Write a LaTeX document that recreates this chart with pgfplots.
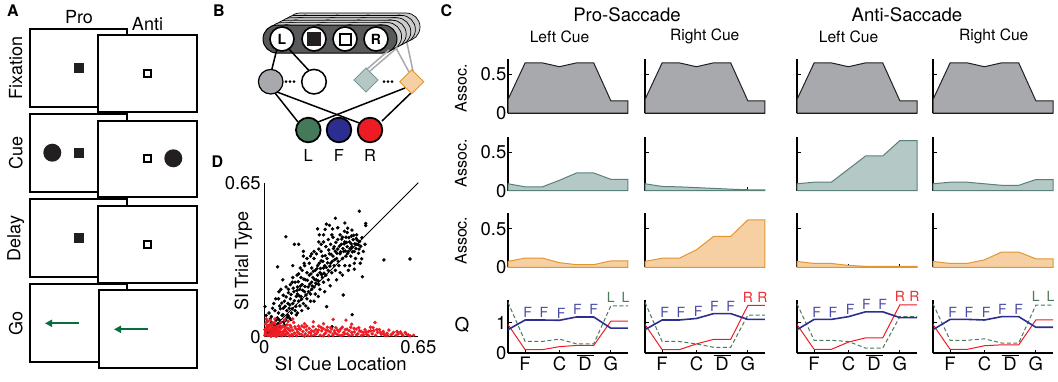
\documentclass[border=0pt]{standalone}
\usepackage{pgfplots}
\pgfplotsset{compat=1.18}
\usepackage{fontspec}
\setmainfont{TeX Gyre Heros}
\usetikzlibrary{arrows.meta}
\newcommand\fs[1]{\fontsize{#1}{#1}\selectfont}
\definecolor{gfill}{RGB}{167,169,172}
\definecolor{gline}{RGB}{35,31,32}
\definecolor{tfill}{RGB}{180,200,197}
\definecolor{tline}{RGB}{90,128,122}
\definecolor{ofill}{RGB}{246,208,162}
\definecolor{oline}{RGB}{226,150,50}
\definecolor{qblue}{RGB}{43,46,143}
\definecolor{qred}{RGB}{237,28,36}
\definecolor{qgreen}{RGB}{74,122,90}
\definecolor{lblue}{RGB}{75,75,165}
\definecolor{lgreen}{RGB}{74,122,90}
\definecolor{lred}{RGB}{237,45,50}
\definecolor{nodegreen}{RGB}{68,121,90}
\definecolor{arrgreen}{RGB}{10,110,60}
\definecolor{stack}{RGB}{88,89,91}
\tikzset{lt/.style={font=\fs{14}, anchor=south, inner sep=0pt}}
\pgfplotsset{
  cp/.style={scale only axis, width=120pt, anchor=origin, xmin=0, xmax=7, ymin=0,
    axis x line*=bottom, axis y line*=left, axis line style={-, line width=1.1pt, black},
    tick align=inside, major tick length=3.5pt, every tick/.style={black, line width=0.8pt},
    xtick={1,3,6}, xticklabels={}, yticklabels={},
    ticklabel style={font=\fs{18.5}}, /pgf/number format/assume math mode=true,
    yticklabel style={inner sep=1.5pt}, clip=false},
  ca/.style={cp, height=54pt, ymax=0.7, ytick={0,0.5}},
  cq/.style={cp, height=53pt, ymax=1.75, ytick={0,1}, xticklabels={F,C,G},
    extra x ticks={4.5}, extra x tick labels={D}, extra x tick style={major tick length=0pt}},
  r1/.style={draw=gline, fill=gfill, line width=1pt},
  r2/.style={draw=tline, fill=tfill, line width=1pt},
  r3/.style={draw=oline, fill=ofill, line width=1pt},
  qb/.style={qblue, line width=1.6pt},
  qr/.style={qred, line width=1pt},
  qg/.style={qgreen, line width=1pt, dash pattern=on 4pt off 2.5pt},
}
\begin{document}
\begin{tikzpicture}
\path[use as bounding box] (0,0) rectangle (1058pt,-381pt);
\begin{scope}[x=1pt,y=-1pt]
% ---------------- Panel A
\node[font=\bfseries\fs{16}] at (13,11) {A};
\node[font=\fs{18}] at (79,16.7) {Pro};
\node[font=\fs{18}] at (147.5,24.2) {Anti};
\node[font=\fs{18},rotate=90] at (15.8,68.3) {Fixation};
\node[font=\fs{18},rotate=90] at (15.8,152.5) {Cue};
\node[font=\fs{18},rotate=90] at (15.8,238.3) {Delay};
\node[font=\fs{18},rotate=90] at (15.8,323.3) {Go};
\foreach \pt/\pb/\at/\ab/\ax in {29.3/106.7/35.3/112.3/97.7, 114/191.7/120.7/197.3/97.7, 199/276.7/205.7/282.7/97.7, 284.3/362.3/290/368.3/99}{
  \draw[line width=1.7pt, fill=white] (30,\pt) rectangle (127.3,\pb);
  \draw[line width=1.7pt, fill=white] (\ax,\at) rectangle (196.7,\ab);
}
\fill[gline] (74,62.7) rectangle (84,72.7);
\draw[line width=1.8pt, fill=white] (144.2,69.8) rectangle (151.2,76.8);
\fill[gline] (52.3,152.7) circle[radius=9pt];
\fill[gline] (74,147.7) rectangle (84,157.7);
\draw[line width=1.8pt, fill=white] (144.2,154.8) rectangle (151.2,161.8);
\fill[gline] (173.3,158.3) circle[radius=9pt];
\fill[gline] (74,232.7) rectangle (84,242.7);
\draw[line width=1.8pt, fill=white] (144.2,240.8) rectangle (151.2,247.8);
\draw[arrgreen, line width=1.8pt, -{Triangle[length=7pt,width=7pt]}] (79,323.3) -- (45,323.3);
\draw[arrgreen, line width=1.8pt, -{Triangle[length=7pt,width=7pt]}] (147.7,329.3) -- (114,329.3);
% ---------------- Panel B
\node[font=\bfseries\fs{16}] at (219,11) {B};
\foreach \k in {5,4,3,2,1}{
  \begin{scope}[shift={(4.6*\k,-2.4*\k)}]
    \draw[line width=0.7pt, fill=gray!40, rounded corners=14pt] (263,25) rectangle (397,53);
    \foreach \cx in {282,314,345,376}{\draw[line width=0.7pt, fill=white] (\cx,39) circle[radius=12pt];}
  \end{scope}
}
\draw[line width=1pt, fill=stack, rounded corners=14pt] (263,25) rectangle (397,53);
\foreach \cx in {282,314,345,376}{\draw[line width=1.6pt, fill=white] (\cx,39) circle[radius=12pt];}
\node[font=\bfseries\fs{14}] at (282,39.5) {L};
\node[font=\bfseries\fs{14}] at (376,39.5) {R};
\fill[gline] (307,32) rectangle (321,46);
\draw[line width=2pt] (339.5,33.5) rectangle (350.5,44.5);
% connections
\draw[line width=1.5pt] (276.7,50) -- (271.7,70);
\draw[line width=1.5pt] (288.3,48.3) -- (310,71.7);
\draw[gfill, line width=1.5pt] (389,50) -- (366,70);
\draw[gfill, line width=1.5pt] (398,47) -- (370,71);
\draw[gfill, line width=1.5pt] (396,48) -- (409,72);
\draw[gfill, line width=1.5pt] (407,43) -- (413,71);
\draw[line width=1.5pt] (275,93) -- (298,122);
\draw[line width=1.5pt] (277,92) -- (362,124);
\draw[line width=1.5pt] (405,88) -- (318,122);
\draw[line width=1.5pt] (412,92) -- (382,121);
\draw[line width=1.2pt, fill=gfill] (270.7,81.7) circle[radius=12.3pt];
\draw[line width=1.5pt, fill=white] (314,81.7) circle[radius=12.3pt];
\foreach \dx in {286,290,294}{\fill (\dx,81.7) circle[radius=1.5pt];}
\draw[line width=0.9pt, draw=tline!80, fill=tfill] (354,80) -- (366,68) -- (378,80) -- (366,92) -- cycle;
\foreach \dx in {384,388,392}{\fill (\dx,81.7) circle[radius=1.5pt];}
\draw[line width=0.9pt, draw=oline, fill=ofill] (399.7,81.7) -- (411.7,69.7) -- (423.7,81.7) -- (411.7,93.7) -- cycle;
\draw[line width=1.8pt, fill=nodegreen] (308.3,130) circle[radius=12.3pt];
\draw[line width=1.8pt, fill=qblue] (339,130) circle[radius=12.3pt];
\draw[line width=1.8pt, fill=qred] (370,130) circle[radius=12.3pt];
\node[font=\fs{16.5}] at (308.3,155) {L};
\node[font=\fs{16.5}] at (339,155) {F};
\node[font=\fs{16.5}] at (370,155) {R};
% ---------------- Panel C texts
\node[font=\bfseries\fs{16}] at (446.5,10.5) {C};
\node[font=\fs{18.6}] at (627,14.5) {Pro-Saccade};
\node[font=\fs{18.6}] at (907,14.5) {Anti-Saccade};
\node[font=\fs{15.6}] at (559.5,36.7) {Left Cue};
\node[font=\fs{15.6}] at (704.7,36.7) {Right Cue};
\node[font=\fs{15.6}] at (848.5,36.7) {Left Cue};
\node[font=\fs{15.6}] at (993.7,36.7) {Right Cue};
\node[font=\fs{16},rotate=90] at (461,88.3) {Assoc.};
\node[font=\fs{16},rotate=90] at (461,163) {Assoc.};
\node[font=\fs{16},rotate=90] at (461,240.6) {Assoc.};
\node[font=\fs{19}] at (462,325) {Q};
% ---------------- Panel D texts
\node[font=\bfseries\fs{16}] at (217.5,162) {D};
\node[font=\fs{18.5}] at (340.8,364) {SI Cue Location};
\node[font=\fs{18},rotate=90] at (243.3,260.8) {SI Trial Type};
\end{scope}

% ================= Row 1
\begin{axis}[ca, at={(508pt,-113pt)}, yticklabels={0,0.5}]
\addplot[r1] coordinates {(0,0.175)(1,0.65)(2,0.65)(3,0.60)(4,0.65)(5,0.65)(6,0.158)(7,0.158)} \closedcycle;
\end{axis}
\begin{axis}[ca, at={(645pt,-113pt)}]
\addplot[r1] coordinates {(0,0.175)(1,0.65)(2,0.65)(3,0.60)(4,0.65)(5,0.65)(6,0.158)(7,0.158)} \closedcycle;
\end{axis}
\begin{axis}[ca, at={(797pt,-113pt)}]
\addplot[r1] coordinates {(0,0.175)(1,0.65)(2,0.65)(3,0.60)(4,0.65)(5,0.65)(6,0.158)(7,0.158)} \closedcycle;
\end{axis}
\begin{axis}[ca, at={(933pt,-113pt)}]
\addplot[r1] coordinates {(0,0.175)(1,0.65)(2,0.65)(3,0.60)(4,0.65)(5,0.65)(6,0.158)(7,0.158)} \closedcycle;
\end{axis}
% ================= Row 2
\begin{axis}[ca, at={(508pt,-190.7pt)}, yticklabels={0,0.5}]
\addplot[r2] coordinates {(0,0.09)(1,0.05)(2,0.05)(3,0.135)(4,0.23)(5,0.23)(6,0.148)(7,0.148)} \closedcycle;
\end{axis}
\begin{axis}[ca, at={(645pt,-190.7pt)}]
\addplot[r2] coordinates {(0,0.09)(1,0.055)(2,0.05)(3,0.04)(4,0.03)(5,0.02)(6,0.012)(7,0.01)} \closedcycle;
\end{axis}
\begin{axis}[ca, at={(797pt,-190.7pt)}]
\addplot[r2] coordinates {(0,0.09)(1,0.11)(2,0.11)(3,0.28)(4,0.45)(5,0.45)(6,0.65)(7,0.65)} \closedcycle;
\end{axis}
\begin{axis}[ca, at={(933pt,-190.7pt)}]
\addplot[r2] coordinates {(0,0.09)(1,0.11)(2,0.11)(3,0.09)(4,0.07)(5,0.07)(6,0.145)(7,0.145)} \closedcycle;
\end{axis}
% ================= Row 3
\begin{axis}[ca, at={(508pt,-267.3pt)}, yticklabels={0,0.5}]
\addplot[r3] coordinates {(0,0.076)(1,0.12)(2,0.12)(3,0.06)(4,0.034)(5,0.034)(6,0.084)(7,0.084)} \closedcycle;
\end{axis}
\begin{axis}[ca, at={(645pt,-267.3pt)}]
\addplot[r3] coordinates {(0,0.076)(1,0.118)(2,0.118)(3,0.227)(4,0.40)(5,0.40)(6,0.615)(7,0.615)} \closedcycle;
\end{axis}
\begin{axis}[ca, at={(797pt,-267.3pt)}]
\addplot[r3] coordinates {(0,0.076)(1,0.05)(2,0.05)(3,0.025)(4,0.013)(5,0.013)(6,0.013)(7,0.013)} \closedcycle;
\end{axis}
\begin{axis}[ca, at={(933pt,-267.3pt)}]
\addplot[r3] coordinates {(0,0.076)(1,0.05)(2,0.05)(3,0.097)(4,0.198)(5,0.198)(6,0.11)(7,0.11)} \closedcycle;
\end{axis}
% ================= Row 4 (Q)
\begin{axis}[cq, at={(508pt,-353pt)}, yticklabels={0,1}]
\addplot[qg] coordinates {(0,1.67)(1,0.38)(2,0.38)(3,0.46)(4,0.30)(5,0.30)(6,1.56)(7,1.56)};
\addplot[qr] coordinates {(0,0.94)(1,0.11)(2,0.11)(3,0.21)(4,0.25)(5,0.25)(6,1.05)(7,1.05)};
\addplot[qb] coordinates {(0,0.77)(1,1.09)(2,1.09)(3,1.08)(4,1.19)(5,1.19)(6,0.82)(7,0.82)};
\draw[line width=1pt] (axis cs:4,-0.08) -- (axis cs:5,-0.08);
\node[lt,text=lblue] at (axis cs:1.15,1.15) {F};
\node[lt,text=lblue] at (axis cs:2.1,1.15) {F};
\node[lt,text=lblue] at (axis cs:3.1,1.14) {F};
\node[lt,text=lblue] at (axis cs:4.05,1.25) {F};
\node[lt,text=lblue] at (axis cs:5,1.25) {F};
\node[lt,text=lgreen] at (axis cs:6,1.66) {L};
\node[lt,text=lgreen] at (axis cs:6.85,1.66) {L};
\end{axis}
\begin{axis}[cq, at={(645pt,-353pt)}]
\addplot[qg] coordinates {(0,1.67)(1,0.38)(2,0.38)(3,0.30)(4,0.19)(5,0.19)(6,1.25)(7,1.25)};
\addplot[qr] coordinates {(0,0.94)(1,0.11)(2,0.11)(3,0.30)(4,0.45)(5,0.45)(6,1.57)(7,1.57)};
\addplot[qb] coordinates {(0,0.77)(1,1.09)(2,1.09)(3,1.14)(4,1.30)(5,1.30)(6,1.11)(7,1.11)};
\draw[line width=1pt] (axis cs:4,-0.08) -- (axis cs:5,-0.08);
\node[lt,text=lblue] at (axis cs:1.15,1.15) {F};
\node[lt,text=lblue] at (axis cs:2.1,1.15) {F};
\node[lt,text=lblue] at (axis cs:3.1,1.2) {F};
\node[lt,text=lblue] at (axis cs:4.05,1.36) {F};
\node[lt,text=lblue] at (axis cs:5,1.36) {F};
\node[lt,text=lred] at (axis cs:6,1.67) {R};
\node[lt,text=lred] at (axis cs:6.85,1.67) {R};
\end{axis}
\begin{axis}[cq, at={(797pt,-353pt)}]
\addplot[qg] coordinates {(0,1.62)(1,0.42)(2,0.42)(3,0.38)(4,0.16)(5,0.16)(6,1.20)(7,1.20)};
\addplot[qr] coordinates {(0,0.94)(1,0.12)(2,0.12)(3,0.36)(4,0.50)(5,0.50)(6,1.59)(7,1.59)};
\addplot[qb] coordinates {(0,0.77)(1,1.11)(2,1.11)(3,1.20)(4,1.36)(5,1.36)(6,1.17)(7,1.17)};
\draw[line width=1pt] (axis cs:4,-0.08) -- (axis cs:5,-0.08);
\node[lt,text=lblue] at (axis cs:1.15,1.17) {F};
\node[lt,text=lblue] at (axis cs:2.1,1.17) {F};
\node[lt,text=lblue] at (axis cs:3.1,1.26) {F};
\node[lt,text=lblue] at (axis cs:4.05,1.42) {F};
\node[lt,text=lblue] at (axis cs:5,1.42) {F};
\node[lt,text=lred] at (axis cs:6,1.69) {R};
\node[lt,text=lred] at (axis cs:6.85,1.69) {R};
\end{axis}
\begin{axis}[cq, at={(933pt,-353pt)}]
\addplot[qg] coordinates {(0,1.62)(1,0.42)(2,0.42)(3,0.47)(4,0.33)(5,0.33)(6,1.58)(7,1.58)};
\addplot[qr] coordinates {(0,0.94)(1,0.12)(2,0.12)(3,0.24)(4,0.27)(5,0.27)(6,1.09)(7,1.09)};
\addplot[qb] coordinates {(0,0.77)(1,1.11)(2,1.11)(3,1.09)(4,1.20)(5,1.20)(6,0.85)(7,0.85)};
\draw[line width=1pt] (axis cs:4,-0.08) -- (axis cs:5,-0.08);
\node[lt,text=lblue] at (axis cs:1.15,1.17) {F};
\node[lt,text=lblue] at (axis cs:2.1,1.17) {F};
\node[lt,text=lblue] at (axis cs:3.1,1.15) {F};
\node[lt,text=lblue] at (axis cs:4.05,1.26) {F};
\node[lt,text=lblue] at (axis cs:5,1.26) {F};
\node[lt,text=lgreen] at (axis cs:6,1.68) {L};
\node[lt,text=lgreen] at (axis cs:6.85,1.68) {L};
\end{axis}
% ================= Panel D scatter
\begin{axis}[scale only axis, width=154pt, height=154pt, anchor=origin, at={(264.3pt,-336.7pt)},
  xmin=0, xmax=0.65, ymin=0, ymax=0.65, axis x line*=bottom, axis y line*=left,
  axis line style={-, line width=1pt, black}, xtick={0,0.65}, ytick={0,0.65},
  xticklabels={0,0.65}, yticklabels={0,0.65}, major tick length=0pt,
  ticklabel style={font=\fs{18.5}}, clip=false]
\addplot[only marks, mark=*, mark size=1.55pt, black] coordinates {
(0.005,0.01)(0.01,0.03)(0.015,0.02)(0.02,0.045)(0.025,0.015)(0.03,0.06)(0.035,0.035)(0.04,0.05)(0.045,0.025)(0.05,0.07)(0.012,0.065)(0.008,0.09)(0.02,0.1)(0.03,0.085)(0.045,0.11)(0.003,0.127)(0.04,0.14)(0.05,0.04)
(0.055,0.08)(0.06,0.1)(0.065,0.13)(0.07,0.06)(0.075,0.09)(0.08,0.12)(0.085,0.15)(0.09,0.07)(0.095,0.11)(0.06,0.16)(0.07,0.2)(0.08,0.175)(0.1,0.14)(0.1,0.09)(0.056,0.295)(0.091,0.422)(0.065,0.045)(0.085,0.05)
(0.105,0.12)(0.11,0.16)(0.115,0.1)(0.12,0.14)(0.125,0.19)(0.13,0.11)(0.135,0.17)(0.14,0.21)(0.145,0.15)(0.15,0.13)(0.11,0.22)(0.12,0.25)(0.13,0.23)(0.14,0.18)(0.15,0.2)(0.127,0.39)(0.145,0.39)(0.105,0.08)(0.14,0.1)(0.12,0.3)(0.145,0.265)
(0.155,0.17)(0.16,0.22)(0.165,0.14)(0.17,0.19)(0.175,0.24)(0.18,0.16)(0.185,0.21)(0.19,0.26)(0.195,0.18)(0.2,0.23)(0.16,0.28)(0.17,0.3)(0.18,0.27)(0.19,0.31)(0.2,0.2)(0.155,0.25)(0.165,0.34)(0.18,0.33)(0.2,0.29)(0.175,0.13)(0.195,0.15)
(0.205,0.25)(0.21,0.21)(0.215,0.28)(0.22,0.24)(0.225,0.3)(0.23,0.22)(0.235,0.27)(0.24,0.32)(0.245,0.25)(0.25,0.29)(0.21,0.33)(0.22,0.35)(0.23,0.37)(0.24,0.36)(0.25,0.4)(0.215,0.18)(0.235,0.2)(0.245,0.34)(0.225,0.26)(0.25,0.23)(0.24,0.39)(0.23,0.4)
(0.255,0.3)(0.26,0.26)(0.265,0.33)(0.27,0.28)(0.275,0.35)(0.28,0.31)(0.285,0.27)(0.29,0.34)(0.295,0.3)(0.3,0.36)(0.257,0.453)(0.26,0.38)(0.27,0.41)(0.28,0.39)(0.29,0.42)(0.3,0.28)(0.263,0.127)(0.286,0.042)(0.27,0.24)(0.295,0.38)(0.285,0.43)
(0.305,0.33)(0.31,0.37)(0.315,0.3)(0.32,0.35)(0.325,0.39)(0.33,0.33)(0.335,0.36)(0.34,0.4)(0.345,0.34)(0.35,0.38)(0.31,0.41)(0.32,0.43)(0.33,0.42)(0.34,0.3)(0.333,0.176)(0.35,0.44)(0.32,0.27)(0.345,0.42)
(0.355,0.36)(0.36,0.4)(0.365,0.34)(0.37,0.38)(0.375,0.41)(0.38,0.36)(0.385,0.33)(0.39,0.39)(0.4,0.37)(0.371,0.093)(0.36,0.3)(0.38,0.31)(0.401,0.53)(0.428,0.478)(0.428,0.469)(0.414,0.253)(0.411,0.329)(0.505,0.324)(0.615,0.328)(0.37,0.45)(0.39,0.43)
(0.062,0.072)(0.068,0.118)(0.074,0.142)(0.079,0.093)(0.088,0.128)(0.092,0.168)(0.097,0.082)(0.102,0.186)(0.108,0.134)(0.113,0.178)(0.118,0.118)(0.122,0.205)(0.127,0.152)(0.133,0.128)(0.138,0.195)(0.143,0.232)(0.148,0.172)(0.153,0.214)(0.157,0.158)(0.162,0.196)(0.167,0.243)(0.172,0.212)(0.176,0.176)(0.182,0.238)(0.187,0.19)(0.192,0.222)(0.197,0.265)(0.202,0.214)(0.207,0.276)(0.212,0.242)(0.217,0.226)(0.222,0.287)(0.227,0.236)(0.232,0.31)(0.237,0.288)(0.242,0.262)(0.247,0.318)(0.252,0.268)(0.257,0.342)(0.262,0.292)(0.267,0.312)(0.272,0.366)(0.277,0.298)(0.282,0.348)(0.287,0.318)(0.292,0.372)(0.297,0.325)(0.302,0.398)(0.307,0.352)(0.312,0.318)(0.317,0.382)(0.322,0.358)(0.327,0.412)(0.332,0.372)(0.337,0.392)(0.342,0.362)(0.347,0.398)(0.352,0.352)(0.357,0.418)(0.362,0.372)(0.367,0.392)(0.372,0.358)(0.377,0.428)(0.382,0.392)(0.387,0.372)(0.392,0.408)(0.397,0.388)(0.402,0.402)(0.407,0.382)(0.412,0.418)(0.398,0.352)(0.388,0.415)(0.368,0.425)(0.352,0.458)(0.338,0.445)(0.31,0.46)(0.288,0.455)(0.275,0.47)(0.262,0.475)(0.25,0.43)(0.232,0.43)(0.21,0.36)(0.195,0.34)(0.168,0.31)(0.152,0.29)(0.138,0.26)(0.118,0.23)(0.102,0.2)(0.092,0.21)(0.078,0.24)(0.062,0.19)(0.048,0.16)(0.035,0.12)(0.025,0.075)(0.058,0.055)(0.082,0.062)(0.112,0.072)(0.135,0.092)(0.158,0.11)(0.185,0.12)(0.21,0.15)(0.228,0.17)(0.255,0.19)(0.278,0.215)(0.305,0.24)(0.33,0.26)(0.355,0.28)(0.38,0.285)(0.405,0.31)(0.418,0.36)(0.425,0.39)(0.2,0.35)(0.3,0.5)(0.225,0.455)(0.165,0.36)(0.34,0.48)
};
\addplot[black, line width=0.8pt] coordinates {(0,0)(0.65,0.65)};
\addplot[only marks, mark=*, mark size=1.55pt, qred] coordinates {
(0.003,0.005)(0.006,0.02)(0.01,0.01)(0.012,0.035)(0.015,0.005)(0.018,0.025)(0.02,0.045)(0.022,0.012)(0.025,0.03)(0.028,0.002)(0.03,0.02)(0.032,0.05)(0.035,0.01)(0.038,0.035)(0.04,0.005)(0.042,0.022)(0.045,0.04)(0.048,0.012)(0.05,0.028)(0.053,0.003)(0.055,0.018)(0.058,0.042)(0.06,0.008)(0.005,0.055)(0.015,0.065)(0.025,0.07)(0.01,0.04)(0.035,0.06)(0.045,0.075)(0.008,0.075)(0.002,0.03)(0.028,0.045)
(0.063,0.025)(0.066,0.012)(0.07,0.035)(0.073,0.004)(0.076,0.02)(0.08,0.045)(0.083,0.01)(0.086,0.03)(0.09,0.006)(0.093,0.022)(0.096,0.05)(0.1,0.015)(0.103,0.032)(0.106,0.004)(0.11,0.025)(0.113,0.04)(0.116,0.01)(0.12,0.028)(0.124,0.06)(0.128,0.015)(0.132,0.035)(0.136,0.005)(0.14,0.02)(0.144,0.045)(0.148,0.012)(0.07,0.06)(0.1,0.065)(0.085,0.07)(0.12,0.075)
(0.152,0.03)(0.158,0.008)(0.163,0.022)(0.168,0.04)(0.173,0.012)(0.178,0.028)(0.184,0.005)(0.19,0.035)(0.196,0.015)(0.207,0.063)(0.2,0.025)(0.206,0.042)(0.212,0.008)(0.218,0.03)(0.224,0.018)(0.23,0.045)(0.236,0.006)(0.242,0.025)(0.248,0.035)(0.254,0.012)(0.26,0.028)(0.266,0.04)(0.272,0.005)(0.278,0.02)(0.284,0.033)(0.291,0.073)(0.29,0.012)(0.296,0.025)(0.17,0.055)(0.25,0.055)
(0.302,0.038)(0.308,0.01)(0.315,0.022)(0.322,0.032)(0.328,0.006)(0.335,0.018)(0.345,0.07)(0.342,0.03)(0.35,0.012)(0.358,0.025)(0.365,0.04)(0.369,0.053)(0.372,0.008)(0.38,0.02)(0.388,0.032)(0.395,0.012)(0.402,0.025)(0.41,0.005)(0.418,0.018)(0.425,0.03)(0.432,0.01)(0.44,0.022)(0.448,0.04)
(0.455,0.012)(0.462,0.025)(0.467,0.06)(0.47,0.006)(0.478,0.018)(0.486,0.03)(0.494,0.01)(0.502,0.022)(0.51,0.005)(0.518,0.015)(0.526,0.028)(0.535,0.008)(0.545,0.018)(0.555,0.005)(0.565,0.012)(0.575,0.02)(0.585,0.006)(0.6,0.01)(0.615,0.004)(0.63,0.006)
(0.004,0.015)(0.009,0.028)(0.014,0.048)(0.019,0.008)(0.024,0.052)(0.029,0.033)(0.034,0.025)(0.039,0.015)(0.044,0.058)(0.049,0.002)(0.054,0.035)(0.059,0.025)(0.064,0.048)(0.069,0.018)(0.074,0.042)(0.079,0.008)(0.084,0.022)(0.089,0.04)(0.094,0.012)(0.099,0.035)(0.109,0.048)(0.119,0.005)(0.129,0.042)(0.139,0.03)(0.149,0.035)(0.159,0.045)(0.169,0.002)(0.179,0.045)(0.189,0.018)(0.199,0.005)(0.209,0.022)(0.219,0.012)(0.229,0.028)(0.239,0.04)(0.249,0.004)(0.259,0.015)(0.269,0.025)(0.279,0.038)(0.289,0.005)(0.299,0.015)(0.309,0.028)(0.319,0.005)(0.329,0.04)(0.339,0.012)(0.349,0.032)(0.359,0.005)(0.369,0.018)(0.379,0.035)(0.389,0.008)(0.399,0.038)(0.409,0.022)(0.419,0.008)(0.429,0.02)(0.439,0.005)(0.449,0.025)(0.459,0.038)(0.475,0.03)(0.49,0.018)(0.505,0.012)(0.52,0.005)(0.54,0.012)(0.56,0.022)(0.58,0.012)(0.595,0.018)(0.608,0.008)
};
\end{axis}
\end{tikzpicture}
\end{document}
